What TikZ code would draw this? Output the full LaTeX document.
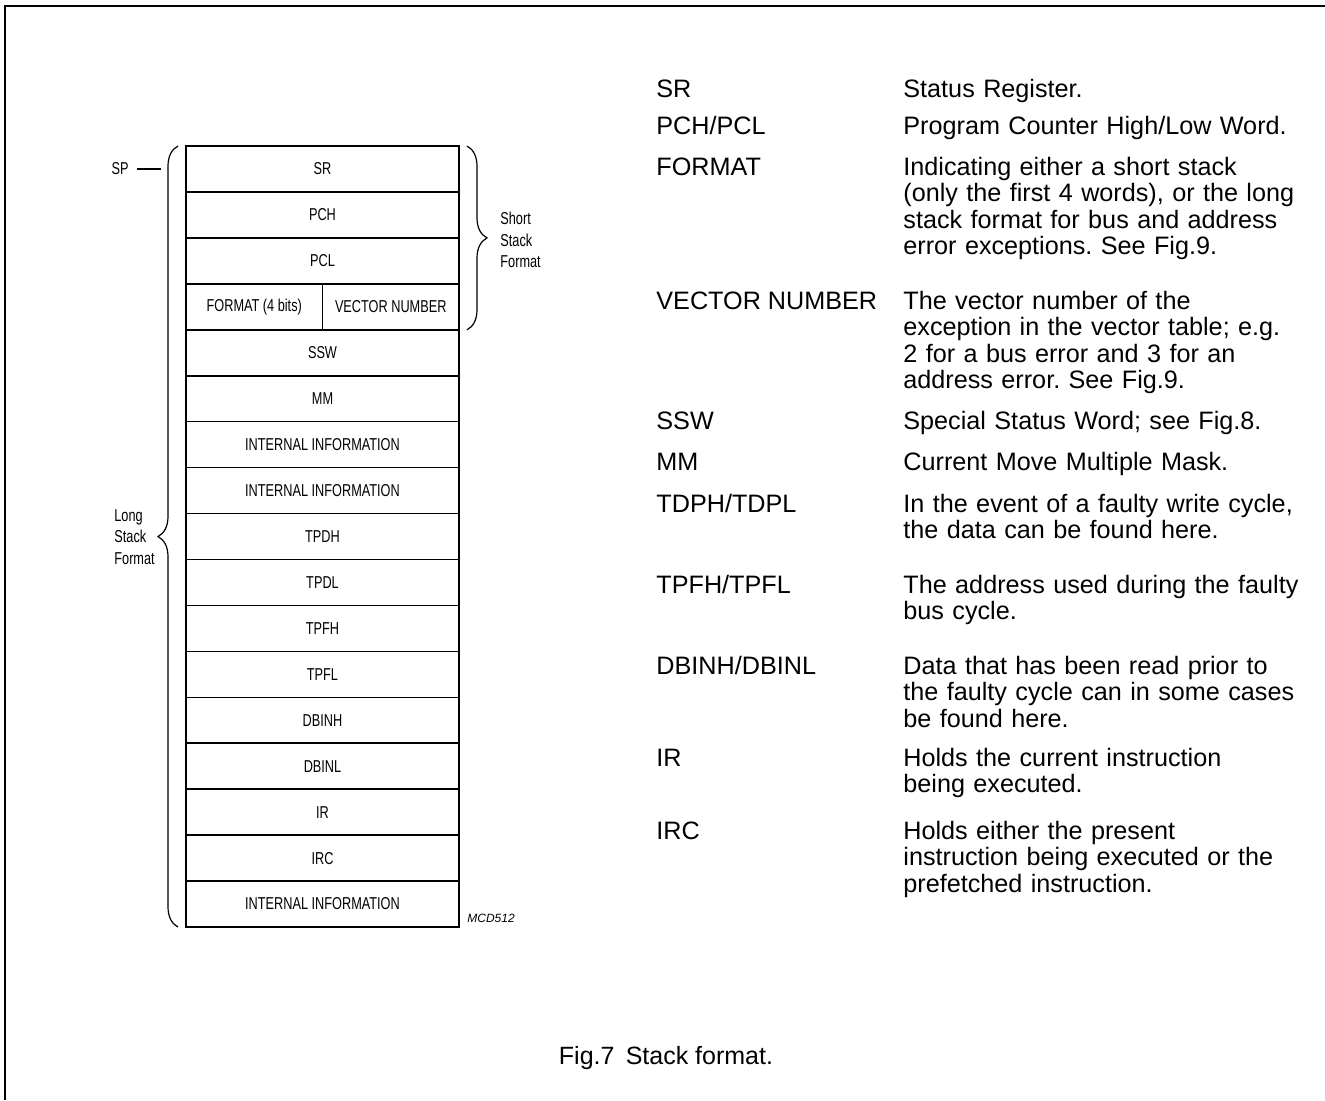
\documentclass[tikz,border=0pt]{standalone}
\usepackage{fontspec}
\setmainfont{Liberation Sans}
\newfontfamily\narrowsf[FakeStretch=0.74]{Liberation Sans}
\usetikzlibrary{positioning,decorations.pathreplacing}

\tikzset{
  cell/.style={draw, line width=0.8pt, minimum width=136.5pt, minimum height=22.97pt,
    inner sep=0pt, outer sep=0pt, font=\narrowsf\fontsize{8.6}{10}\selectfont},
  halfcell/.style={cell, minimum width=68.25pt},
  term/.style={anchor=base west, inner sep=0pt, font=\fontsize{12.6}{13.3}\selectfont\frenchspacing},
  desc/.style={term, text width=215pt, align=left},
  sidelabel/.style={inner sep=0pt, align=left, font=\narrowsf\fontsize{8.6}{10.6}\selectfont},
  stackbrace/.style={decorate, decoration={brace, amplitude=10pt}, line width=0.6pt},
}

\begin{document}
\begin{tikzpicture}[x=0.5pt, y=-0.5pt]
\useasboundingbox (0,0) rectangle (1325,1100);
% frame
\draw[line width=1pt] (5,1100) -- (5,6) -- (1325,6);

% the stack
\node[cell] (sr) at (322.5,169) {SR};
\node[cell, below=0pt of sr] (pch) {PCH};
\node[cell, below=0pt of pch] (pcl) {PCL};
\node[halfcell, anchor=north west] (fmt) at (pcl.south west) {FORMAT (4 bits)};
\node[halfcell, right=0pt of fmt] (vecnum) {VECTOR NUMBER};
\node[cell, anchor=north] (ssw) at (fmt.south east) {SSW};
\node[cell, below=0pt of ssw] (mm) {MM};
\node[cell, below=0pt of mm] (info1) {INTERNAL INFORMATION};
\node[cell, below=0pt of info1] (info2) {INTERNAL INFORMATION};
\node[cell, below=0pt of info2] (tpdh) {TPDH};
\node[cell, below=0pt of tpdh] (tpdl) {TPDL};
\node[cell, below=0pt of tpdl] (tpfh) {TPFH};
\node[cell, below=0pt of tpfh] (tpfl) {TPFL};
\node[cell, below=0pt of tpfl] (dbinh) {DBINH};
\node[cell, below=0pt of dbinh] (dbinl) {DBINL};
\node[cell, below=0pt of dbinl] (ir) {IR};
\node[cell, below=0pt of ir] (irc) {IRC};
\node[cell, below=0pt of irc] (info3) {INTERNAL INFORMATION};

% braces and their labels
\draw[stackbrace] ([xshift=4pt]sr.north east) -- ([xshift=4pt]vecnum.south east);
\draw[stackbrace] ([xshift=-4pt]info3.south west) -- ([xshift=-4pt]sr.north west);
\node[sidelabel, anchor=west] (shortlbl) at (500,240) {Short\\Stack\\Format};
\node[sidelabel, anchor=west] (longlbl) at (114,537) {Long\\Stack\\Format};
\node[sidelabel, anchor=east] (sp) at (129,169) {SP};
\coordinate (spend) at (161,169);
\draw[line width=0.6pt] ([xshift=4pt]sp.east) -- (spend);
\node[anchor=west, inner sep=0pt, font=\itshape\fontsize{6}{7}\selectfont] (code) at (467,918) {MCD512};

% legend
\node[term] (srterm) at (656,97) {SR};
\node[desc] (srdesc) at (903,97) {Status Register.};
\node[term] (pcterm) at (656,134) {PCH/PCL};
\node[desc] (pcdesc) at (903,134) {Program Counter High/Low Word.};
\node[term] (fmtterm) at (656,175) {FORMAT};
\node[desc] (fmtdesc) at (903,175) {Indicating either a short stack\\(only the first 4 words), or the long\\stack format for bus and address\\error exceptions. See Fig.9.};
\node[term] (vecterm) at (656,309) {VECTOR NUMBER};
\node[desc] (vecdesc) at (903,309) {The vector number of the\\exception in the vector table; e.g.\\2 for a bus error and 3 for an\\address error. See Fig.9.};
\node[term] (sswterm) at (656,429) {SSW};
\node[desc] (sswdesc) at (903,429) {Special Status Word; see Fig.8.};
\node[term] (mmterm) at (656,470) {MM};
\node[desc] (mmdesc) at (903,470) {Current Move Multiple Mask.};
\node[term] (tdpterm) at (656,512) {TDPH/TDPL};
\node[desc] (tdpdesc) at (903,512) {In the event of a faulty write cycle,\\the data can be found here.};
\node[term] (tpfterm) at (656,593) {TPFH/TPFL};
\node[desc] (tpfdesc) at (903,593) {The address used during the faulty\\bus cycle.};
\node[term] (dbinterm) at (656,674) {DBINH/DBINL};
\node[desc] (dbindesc) at (903,674) {Data that has been read prior to\\the faulty cycle can in some cases\\be found here.};
\node[term] (irterm) at (656,766) {IR};
\node[desc] (irdesc) at (903,766) {Holds the current instruction\\being executed.};
\node[term] (ircterm) at (656,839) {IRC};
\node[desc] (ircdesc) at (903,839) {Holds either the present\\instruction being executed or the\\prefetched instruction.};

\node[font=\fontsize{12.5}{14}\selectfont] (caption) at (666,1058) {Fig.7\hspace{0.45em}Stack format.};
\end{tikzpicture}
\end{document}
